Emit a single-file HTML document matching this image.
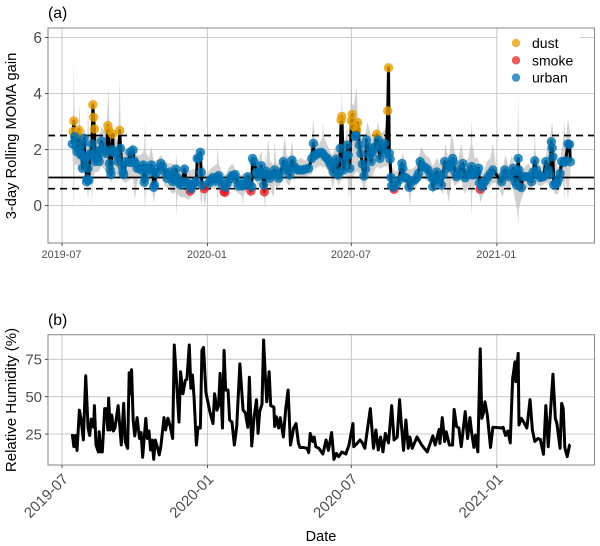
<!DOCTYPE html>
<html lang="en">
<head>
<meta charset="utf-8">
<title>MOMA gain and relative humidity</title>
<style>
html,body{margin:0;padding:0;background:#fff;}
svg{display:block;font-family:"Liberation Sans",sans-serif;filter:blur(0.3px);}
</style>
</head>
<body>
<svg id="chart" xmlns="http://www.w3.org/2000/svg" width="600" height="546" viewBox="0 0 600 546"></svg>
<script>
const tickLabels = ['2019-07', '2020-01', '2020-07', '2021-01'];
const tickDays = [0, 184, 366, 550];
const gainTicks = [0, 2, 4, 6];
const rhTicks = [25, 50, 75];
const gainRefSolid = [1];
const gainRefDashed = [0.6, 2.5];
const legendLabels = ['dust', 'smoke', 'urban'];

const gainDays = [13,14,15,16,17,18,19,20,21,23,24,25,26,27,28,29,30,31,32,33,34,35,36,38,39,40,41,42,43,44,46,47,48,50,52,54,56,58,59,60,61,62,63,64,65,67,70,71,73,74,76,77,78,81,84,86,87,90,91,93,95,98,100,103,104,105,106,108,110,113,115,116,117,119,122,125,127,130,133,135,137,140,141,143,144,146,148,150,152,155,157,160,162,163,165,167,170,171,173,175,176,177,180,186,188,191,194,196,198,200,203,205,206,207,209,212,215,217,219,221,223,226,228,230,232,235,237,239,240,241,243,246,248,250,252,254,255,256,258,260,263,266,269,272,274,277,280,282,284,286,288,291,294,296,299,302,305,308,312,316,318,319,321,323,325,328,330,333,335,337,339,341,343,345,347,349,351,352,353,354,356,358,360,361,362,364,366,367,369,371,372,373,374,376,378,380,382,384,385,387,389,391,392,394,396,398,400,402,404,406,408,410,412,413,414,415,416,417,419,420,423,426,430,431,432,434,436,439,442,446,449,451,453,455,457,460,463,466,468,469,472,474,477,478,480,482,484,487,490,492,494,495,497,499,502,504,507,510,513,516,518,519,522,525,527,528,529,531,533,536,539,542,545,556,558,560,562,565,568,571,573,575,576,577,578,581,583,586,590,592,594,596,598,600,603,605,607,609,612,615,617,619,620,621,622,624,626,628,630,632,635,637,640,642,643];
const gainValues = [2.2,2.64,3.02,2.46,2.3,2.1,1.92,2.54,2.7,1.95,1.8,1.8,1.33,2.2,2.4,1.6,1.7,0.85,0.95,1.33,0.9,1.8,1.86,2.2,3.6,3.15,2.73,1.57,1.7,1.92,1.7,1.57,1.98,2.3,2.05,1.95,1.86,2.86,2.7,1.5,1.27,1.11,2.0,2.55,1.9,1.9,1.75,1.57,2.68,2.04,1.4,1.2,1.11,1.57,1.55,1.9,1.54,1.98,1.6,1.5,1.33,1.33,1.27,1.45,0.83,1.0,1.33,1.27,1.3,1.45,1.2,0.65,0.73,1.15,1.33,1.5,1.4,1.2,0.97,1.1,1.2,0.85,1.1,0.9,1.3,1.0,0.8,0.73,0.85,1.3,0.85,0.75,0.52,0.6,0.72,0.8,0.87,1.68,1.7,1.9,1.18,0.73,0.6,0.8,0.92,1.0,0.87,1.0,1.07,0.9,0.72,0.5,0.47,0.65,0.8,0.95,1.07,1.05,1.11,0.9,0.7,0.72,0.7,0.75,0.85,1.03,0.75,0.52,0.67,1.68,1.56,1.18,1.03,1.2,1.42,1.1,0.73,0.49,1.23,1.1,0.97,1.1,1.27,1.1,0.97,1.2,1.57,1.45,1.35,1.27,1.09,1.62,1.39,1.3,1.27,1.27,1.27,1.3,1.33,1.68,2.22,1.8,1.8,1.86,1.88,1.9,1.85,1.74,1.7,1.62,1.5,1.39,1.2,1.5,1.66,1.09,1.2,2.04,3.05,3.18,1.27,1.57,1.8,2.16,1.8,1.33,3.03,3.25,2.82,2.46,2.5,2.7,2.96,2.16,1.86,1.48,1.05,1.3,2.34,2.1,1.8,1.57,1.86,1.98,2.1,2.54,2.34,1.68,2.16,2.0,2.22,1.86,3.38,4.92,1.86,1.66,1.0,0.71,0.65,0.58,0.75,0.9,1.5,1.33,1.03,1.0,0.97,0.65,0.85,0.91,1.0,1.15,1.57,1.45,1.39,1.35,1.27,1.1,0.97,0.67,0.9,1.2,0.91,1.03,0.73,1.1,1.57,1.33,1.4,1.5,1.68,1.54,1.2,1.03,1.1,1.3,1.5,0.99,1.1,1.25,1.39,1.09,1.1,1.2,1.33,0.8,0.58,0.67,0.79,0.9,1.03,1.15,1.27,0.85,1.05,1.27,1.15,1.03,1.15,1.33,0.85,0.73,1.2,1.68,1.27,0.64,1.03,1.03,1.03,1.0,0.85,1.2,1.6,1.27,1.1,1.0,1.03,1.03,1.57,1.27,1.1,2.28,2.06,1.74,0.73,0.8,0.79,0.95,1.15,1.57,1.54,1.6,2.2,2.18,1.56];
const dustDays = [14,15,20,21,39,40,41,58,59,64,73,353,354,366,367,369,373,374,398,412,413];
const smokeDays = [162,180,205,206,239,256,420,529];

const ribbonDays = [13,14,15,16,18,21,22,23,25,28,30,32,33,34,37,38,39,42,46,50,56,57,59,60,62,66,71,72,73,74,76,80,85,90,92,95,98,100,104,105,106,110,113,116,120,125,130,135,140,144,145,146,150,155,160,
165,170,173,176,178,181,183,187,192,196,197,198,202,207,212,216,220,225,228,229,230,235,238,243,248,252,254,256,257,258,261,263,266,268,269,271,275,279,282,284,288,291,293,297,302,308,313,316,318,320,
325,329,330,331,335,340,342,346,350,353,354,355,358,361,363,364,366,367,369,373,374,378,382,386,392,396,400,402,408,412,414,417,422,428,431,434,438,440,442,447,452,454,460,465,469,474,478,
482,485,489,493,497,501,505,509,514,517,518,519,522,526,529,533,538,542,545,549,553,557,561,565,569,573,576,577,578,582,586,590,594,597,598,599,603,607,611,614,618,620,623,627,631,634,635,637,640,642,643];
const ribbonHigh = [2.5,3.0,5.1,3.0,2.7,2.8,3.7,2.8,2.6,2.8,2.5,2.5,3.6,2.5,2.7,4.0,3.0,2.7,2.4,2.8,2.6,3.2,4.2,2.8,2.3,2.5,2.3,3.3,4.6,3.0,2.2,2.0,2.1,2.2,2.0,1.8,1.8,1.8,2.0,3.05,1.9,1.7,2.1,1.6,1.6,1.8,1.6,1.5,1.5,1.4,1.9,1.3,1.3,1.5,1.2,
1.3,1.3,2.0,1.6,1.4,1.3,1.1,1.3,1.4,1.5,2.16,1.5,1.2,1.1,1.4,1.5,1.2,1.1,1.1,1.2,1.1,1.2,1.1,1.9,1.5,2.0,1.4,1.3,1.9,1.4,2.4,1.6,1.5,1.5,2.3,1.5,1.5,1.8,2.5,1.8,1.7,2.3,1.8,1.6,1.7,1.6,1.8,2.4,3.1,2.3,
2.2,2.4,3.0,2.5,2.2,1.9,1.8,2.1,1.9,2.6,4.3,2.5,2.3,2.8,2.1,2.4,4.6,3.6,3.6,4.2,3.2,2.6,2.0,3.0,2.4,2.5,3.0,2.5,2.7,3.0,2.2,1.4,1.2,1.4,1.9,1.5,1.3,1.3,1.3,1.4,1.8,2.1,1.8,1.7,1.4,1.7,1.5,
1.5,2.2,1.6,2.6,1.9,1.6,2.2,1.5,1.7,2.2,3.1,2.2,1.7,1.7,1.2,1.2,1.6,1.7,2.2,1.4,1.2,1.3,1.8,1.4,1.8,1.3,1.7,4.0,1.8,1.2,1.4,1.5,1.3,1.9,2.6,1.9,1.5,1.4,1.5,2.2,2.6,3.0,1.9,1.3,1.8,2.4,3.05,2.2,3.1,2.7,2.2];
const ribbonLow = [1.9,1.4,-0.2,1.4,1.5,1.3,1.2,1.4,1.1,1.5,0.8,0.5,0.2,0.6,0.9,0.0,1.0,1.2,1.2,1.4,1.2,1.0,0.9,1.0,0.8,1.2,1.0,0.9,1.0,1.1,0.9,0.8,0.9,1.0,0.2,0.8,1.0,0.9,0.6,-0.2,0.6,0.9,0.8,0.1,0.8,1.0,0.7,0.6,0.4,0.5,-0.45,0.4,0.3,0.3,0.2,
0.4,0.5,0.9,0.0,0.5,-0.05,0.5,0.6,0.6,0.6,-0.1,0.6,0.5,0.3,0.6,0.7,0.5,0.4,0.3,0.0,0.4,0.6,0.3,1.0,0.7,0.9,0.4,0.2,-0.15,0.6,0.7,0.7,0.4,0.3,0.8,0.6,0.7,0.9,1.0,0.8,0.7,1.1,0.9,1.0,1.0,1.0,1.1,1.1,1.4,1.3,
1.4,1.4,1.3,1.4,1.3,1.1,0.6,1.0,0.7,0.9,0.9,1.0,1.1,1.0,0.25,0.8,0.1,0.9,1.1,1.2,1.2,1.0,0.5,1.0,1.0,1.3,1.4,1.3,1.4,1.4,1.2,0.5,0.5,0.7,0.9,0.6,0.6,0.0,0.5,0.6,0.9,1.1,0.9,0.9,0.4,0.8,0.6,
0.4,0.9,0.1,1.0,0.7,0.8,0.9,0.4,0.7,0.5,-0.4,0.5,0.7,0.8,0.1,0.4,0.6,0.7,0.8,0.8,0.6,0.3,0.7,0.5,0.8,0.2,-0.2,-0.8,-0.1,0.3,0.6,0.6,0.5,0.9,0.7,0.8,0.7,0.7,0.8,0.8,0.7,1.3,0.4,0.4,0.7,0.9,0.2,1.0,0.2,1.0,1.1];

const rhDays = [13,15,17,19,22,24,27,30,33,35,37,38,40,41,43,46,47,49,51,54,56,58,59,61,63,65,67,71,75,78,80,83,85,87,88,90,92,95,98,100,102,106,108,110,112,114,116,118,121,123,125,129,131,134,137,140,142,145,148,150,153,156,158,161,163,165,167,170,172,175,177,179,182,187,191,193,196,198,200,203,205,207,210,212,215,218,221,225,229,232,235,237,240,243,246,248,250,253,255,257,259,262,264,268,269,271,274,276,280,283,286,289,293,296,299,301,305,310,312,314,317,319,321,325,330,334,337,341,344,347,350,354,359,363,368,369,372,377,380,383,390,394,397,400,403,406,409,413,417,420,424,427,429,432,435,438,440,443,449,455,462,469,472,477,478,481,484,486,490,494,496,499,502,505,510,513,516,518,521,523,526,529,531,533,535,538,542,545,556,558,561,564,567,568,570,573,574,577,578,581,584,588,592,595,598,602,605,609,612,615,621,624,626,630,632,634,636,639,642,643];
const rhValues = [25,16.5,24,14,41,35.5,21,64,29,24,35,34,29.5,44,17.6,13,26.5,13,13,42,42,27.7,49,27.7,37.7,27,29,44,17.6,45.5,20,15.4,66,52,68,34.4,23.7,36,22,26,9.4,35.5,22,27,14.3,21,8,21,15.4,11,16.5,36,27.7,35.5,30,22,84.6,59,33,66.7,52,61,61.6,84.6,55.6,64.5,50,17.6,29.5,29,81,83,53,40,32,52,41,44,65.6,29,81,54.5,54.5,34.4,33,17.6,30,72,41,39,29.5,63,17,36.6,48,25.4,40,45,88,65.6,46.6,66.7,44,43,30,36.6,29,36,23,42,54.5,17.6,29,32,19,16,16,15.4,12.5,25.4,20,23,16.5,15.4,11.6,21,14,26,8,12,9.8,13,11.6,17.6,32,16.5,18,21,19,15.4,42,15.4,27.7,14.3,23,13,25.4,19,44,21,23,48,33,14,34.4,15.4,23,15.4,23,17.6,13,23.7,17.6,28,18.7,36,20,26.5,17.6,17.6,41.5,30,29,16.5,40,22,36,26.5,16,24.3,13,82,35.5,39,46.6,37.7,16,29.5,29,29.5,24,27,19,34,62,73.4,60,79,31,35.5,33,29,48,27.7,20,22,21.4,11.4,44,16.5,65,35.5,32,15.4,45.5,42,16,9.8,17.6,18];

const GAIN_X0 = 62, PX_PER_DAY = 0.7906;
const GAIN_Y0 = 205.5, GAIN_PX = 28;
const RH_Y25 = 434, RH_PX = 1.493;
const PANEL_L = 48, PANEL_R = 594.5;
const AT = 28, AB = 243, BT = 334.7, BB = 465;
const NS = 'http://www.w3.org/2000/svg';
const svg = document.getElementById('chart');

function xScale(day) { return GAIN_X0 + day * PX_PER_DAY; }
function yGain(v) { return GAIN_Y0 - v * GAIN_PX; }
function yRh(v) { return RH_Y25 - (v - 25) * RH_PX; }

function mk(tag, attrs, parent, text) {
  const el = document.createElementNS(NS, tag);
  for (const k in attrs) el.setAttribute(k, attrs[k]);
  if (text !== undefined) el.textContent = text;
  (parent || svg).appendChild(el);
  return el;
}
function group(name) {
  const g = mk('g', {});
  
  
  return g;
}
function pathFrom(xs, ys) {
  return xs.map((x, i) => (i ? 'L' : 'M') + x.toFixed(2) + ' ' + ys[i].toFixed(2)).join('');
}

const GRID = '#cccccc', BORDER = '#8f8f8f', TICK = '#4d4d4d';

/* panel backgrounds and grids */
function grid(name, top, bottom, yTicks, yFn) {
  const g = group(name);
  yTicks.forEach(t => mk('line', {x1: PANEL_L, x2: PANEL_R, y1: yFn(t), y2: yFn(t), stroke: GRID, 'stroke-width': 1.1}, g));
  tickDays.forEach(d => mk('line', {x1: xScale(d), x2: xScale(d), y1: top, y2: bottom, stroke: GRID, 'stroke-width': 1.1}, g));
}
grid('gain-grid', AT, AB, gainTicks, yGain);
grid('humidity-grid', BT, BB, rhTicks, yRh);

/* ribbon */
const ribbonX = ribbonDays.map(xScale);
const ribbon = mk('path', {
  d: pathFrom(ribbonX.concat(ribbonX.slice().reverse()), ribbonHigh.map(yGain).concat(ribbonLow.map(yGain).reverse())) + 'Z',
  fill: '#b5b5b5', 'fill-opacity': 0.62, stroke: 'none'
});



/* gain line */
const gainLine = mk('path', {
  d: pathFrom(gainDays.map(xScale), gainValues.map(yGain)),
  fill: 'none', stroke: '#000', 'stroke-width': 3, 'stroke-linejoin': 'round'
});



/* reference lines */
gainRefSolid.forEach(v => {
  const l = mk('line', {x1: PANEL_L, x2: PANEL_R, y1: yGain(v), y2: yGain(v), stroke: '#000', 'stroke-width': 1.7});
  
  
});
gainRefDashed.forEach(v => {
  const l = mk('line', {x1: PANEL_L, x2: PANEL_R, y1: yGain(v), y2: yGain(v), stroke: '#000', 'stroke-width': 1.7, 'stroke-dasharray': '7 5'});
  
  
});

/* points */
const COLORS = {dust: '#E69F00', smoke: '#E8202A', urban: '#0072B2'};
function pointType(day) {
  if (dustDays.indexOf(day) >= 0) return 'dust';
  if (smokeDays.indexOf(day) >= 0) return 'smoke';
  return 'urban';
}
const pointsGroup = group('gain-points');
['dust', 'smoke', 'urban'].forEach(kind => {
  gainDays.forEach((d, i) => {
    if (pointType(d) !== kind) return;
    const c = mk('circle', {cx: xScale(d), cy: yGain(gainValues[i]), r: 4.7, fill: COLORS[kind], 'fill-opacity': 0.8}, pointsGroup);
    
    
  });
});

/* humidity line */
const rhLine = mk('path', {
  d: pathFrom(rhDays.map(xScale), rhValues.map(yRh)),
  fill: 'none', stroke: '#000', 'stroke-width': 3, 'stroke-linejoin': 'round'
});



/* legend */
const legend = group('legend');
mk('rect', {x: 498, y: 27, width: 82, height: 61, fill: '#fff'}, legend);
legendLabels.forEach((name, i) => {
  const y = 43 + i * 17.3;
  const dot = mk('circle', {cx: 516, cy: y, r: 4.2, fill: COLORS[name], 'fill-opacity': 0.75}, legend);
  
  
  const t = mk('text', {x: 532, y: y + 5, 'font-size': 14, fill: '#000'}, legend, name);
  
  
});

/* panel borders */
[[AT, AB, 'gain-panel-border'], [BT, BB, 'humidity-panel-border']].forEach(p => {
  const r = mk('rect', {x: PANEL_L, y: p[0], width: PANEL_R - PANEL_L, height: p[1] - p[0], fill: 'none', stroke: BORDER, 'stroke-width': 1.1});
  
  
});

/* axes: panel a */
const axisA = group('gain-axes');
gainTicks.forEach(t => {
  mk('line', {x1: 45, x2: PANEL_L, y1: yGain(t), y2: yGain(t), stroke: TICK, 'stroke-width': 1}, axisA);
  const el = mk('text', {x: 42, y: yGain(t) + 5.4, 'text-anchor': 'end', 'font-size': 15.5, fill: TICK}, axisA, String(t));
  
  
});
tickDays.forEach((d, i) => {
  mk('line', {x1: xScale(d), x2: xScale(d), y1: AB, y2: AB + 3, stroke: TICK, 'stroke-width': 1}, axisA);
  const el = mk('text', {x: xScale(d) - 0.5, y: 258, 'text-anchor': 'middle', 'font-size': 10.9, fill: TICK}, axisA, tickLabels[i]);
  
  
});

/* axes: panel b */
const axisB = group('humidity-axes');
rhTicks.forEach(t => {
  mk('line', {x1: 45, x2: PANEL_L, y1: yRh(t), y2: yRh(t), stroke: TICK, 'stroke-width': 1}, axisB);
  const el = mk('text', {x: 42, y: yRh(t) + 5.3, 'text-anchor': 'end', 'font-size': 15, fill: TICK}, axisB, String(t));
  
  
});
tickDays.forEach((d, i) => {
  const x = xScale(d);
  mk('line', {x1: x, x2: x, y1: BB, y2: BB + 3, stroke: TICK, 'stroke-width': 1}, axisB);
  const el = mk('text', {x: x + 7, y: 480, 'text-anchor': 'end', 'font-size': 15, fill: TICK, transform: 'rotate(-45 ' + (x + 7) + ' 480)'}, axisB, tickLabels[i]);
  
  
});
</script>
<script>
(function () {
  const NSX = 'http://www.w3.org/2000/svg';
  const root = document.getElementById('chart');
  function label(name, txt, attrs) {
    const t = document.createElementNS(NSX, 'text');
    for (const k in attrs) t.setAttribute(k, attrs[k]);
    t.textContent = txt;
    
    
    root.appendChild(t);
  }
  label('panel-a-title', '(a)', {x: 48, y: 18, 'font-size': 15.8, fill: '#000'});
  label('panel-b-title', '(b)', {x: 48, y: 325, 'font-size': 15.8, fill: '#000'});
  label('gain-y-axis-title', '3-day Rolling MOMA gain', {x: 16, y: 136, 'font-size': 14.7, fill: '#000', 'text-anchor': 'middle', transform: 'rotate(-90 16 136)'});
  label('humidity-y-axis-title', 'Relative Humidity (%)', {x: 16, y: 400, 'font-size': 15, fill: '#000', 'text-anchor': 'middle', transform: 'rotate(-90 16 400)'});
  label('x-axis-title', 'Date', {x: 321, y: 541, 'font-size': 14.5, fill: '#000', 'text-anchor': 'middle'});
})();
</script>
</body>
</html>
